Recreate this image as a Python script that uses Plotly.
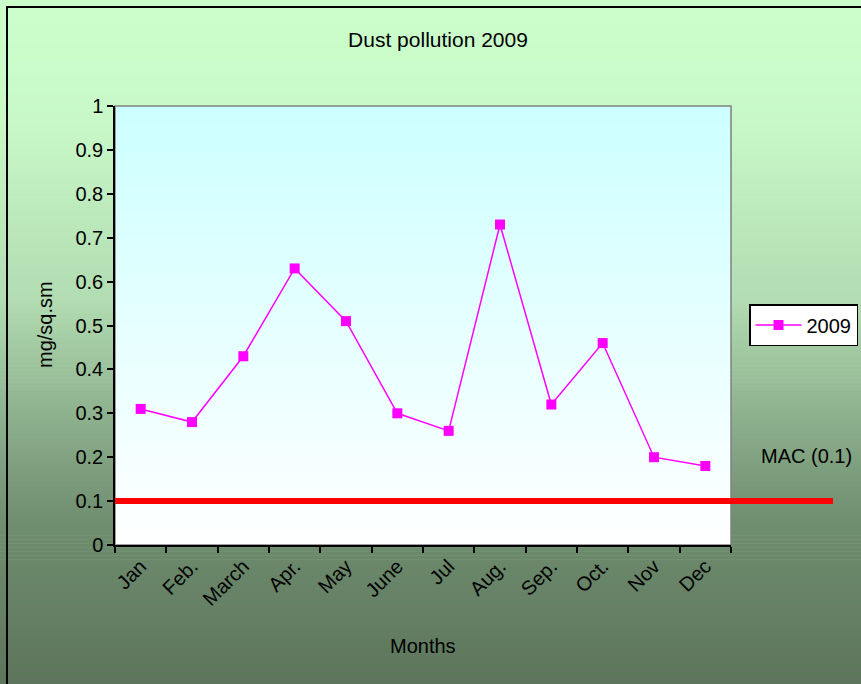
import plotly.graph_objects as go

# ---- data ----
months = ["Jan", "Feb.", "March", "Apr.", "May", "June", "Jul", "Aug.", "Sep.", "Oct.", "Nov", "Dec"]
dust_2009 = [0.31, 0.28, 0.43, 0.63, 0.51, 0.30, 0.26, 0.73, 0.32, 0.46, 0.20, 0.18]
mac_value = 0.1
y_ticks = [0, 0.1, 0.2, 0.3, 0.4, 0.5, 0.6, 0.7, 0.8, 0.9, 1]

# ---- geometry ----
W, H = 861, 684
ML, MR, MT, MB = 115, 130, 106, 139
PW, PH = W - ML - MR, H - MT - MB
YMIN, YMAX = 0, 1


def px_x(px):
    return (px - ML) / PW


def px_y(py):
    return (H - MB - py) / PH


FONT = "Liberation Sans, Arial, sans-serif"
FS = 20

fig = go.Figure()
fig.add_trace(go.Scatter(
    x=months, y=dust_2009, mode="lines+markers", name="2009",
    line=dict(color="#FF00FF", width=1.5),
    marker=dict(symbol="square", size=10, color="#FF00FF"),
))

shapes = []

# paper gradient (top -> bottom)
stops = [(0, (204, 255, 204)), (120, (200, 248, 200)), (300, (178, 220, 178)),
         (420, (140, 175, 140)), (520, (112, 142, 112)), (684, (92, 117, 92))]


def interp(py):
    for (a, ca), (b, cb) in zip(stops[:-1], stops[1:]):
        if a <= py <= b:
            t = (py - a) / (b - a)
            return tuple(round(ca[i] + (cb[i] - ca[i]) * t) for i in range(3))
    return stops[-1][1]


N = 170
band = H / N
for i in range(N):
    top = i * band
    bot = top + band + 0.6
    c = interp(top + band / 2)
    shapes.append(dict(type="rect", xref="paper", yref="paper", layer="below",
                       x0=px_x(0), x1=px_x(W), y0=px_y(bot), y1=px_y(top),
                       line=dict(width=0), fillcolor="rgb(%d,%d,%d)" % c))

# plot-area gradient (light cyan -> white)
N2 = 110
for i in range(N2):
    t0 = i / N2
    t1 = (i + 1) / N2
    tm = (t0 + t1) / 2
    c = (round(204 + 51 * tm), 255, 255)
    shapes.append(dict(type="rect", xref="paper", yref="paper", layer="below",
                       x0=0, x1=1, y0=1 - t1 - 0.003, y1=1 - t0,
                       line=dict(width=0), fillcolor="rgb(%d,%d,%d)" % c))

# plot area gray frame
shapes.append(dict(type="rect", xref="paper", yref="paper", layer="below",
                   x0=0, x1=1, y0=0, y1=1, line=dict(color="#808080", width=1.5),
                   fillcolor="rgba(0,0,0,0)"))

# outer black border
shapes.append(dict(type="rect", xref="paper", yref="paper", layer="below",
                   x0=px_x(7), x1=px_x(W + 20), y0=px_y(H + 20), y1=px_y(7),
                   line=dict(color="black", width=2), fillcolor="rgba(0,0,0,0)"))

# MAC line
mac_y = (mac_value - YMIN) / (YMAX - YMIN)
shapes.append(dict(type="line", xref="paper", yref="paper", layer="above",
                   x0=0, x1=px_x(833), y0=mac_y, y1=mac_y,
                   line=dict(color="#FF0000", width=6)))

annotations = [
    dict(text="MAC (0.1)", xref="paper", yref="paper", x=px_x(806), y=px_y(456),
         showarrow=False, font=dict(size=FS, color="black", family=FONT),
         xanchor="center", yanchor="middle"),
    dict(text="Months", xref="paper", yref="paper", x=px_x(423), y=px_y(646),
         showarrow=False, font=dict(size=FS, color="black", family=FONT),
         xanchor="center", yanchor="middle"),
    dict(text="mg/sq.sm", xref="paper", yref="paper", x=px_x(45), y=px_y(325),
         showarrow=False, textangle=-90, font=dict(size=FS, color="black", family=FONT),
         xanchor="center", yanchor="middle"),
]

fig.update_layout(
    width=W, height=H,
    margin=dict(l=ML, r=MR, t=MT, b=MB, pad=0, autoexpand=False),
    paper_bgcolor="rgb(204,255,204)",
    plot_bgcolor="rgba(0,0,0,0)",
    font=dict(family=FONT, size=FS, color="black"),
    title=dict(text="Dust pollution 2009", x=438 / W, xref="container", xanchor="center",
               y=1 - 40 / H, yref="container", yanchor="middle",
               font=dict(size=21, family=FONT, color="black")),
    shapes=shapes,
    annotations=annotations,
    showlegend=True,
    legend=dict(x=px_x(749), xanchor="left", y=px_y(325), yanchor="middle",
                bgcolor="white", bordercolor="black", borderwidth=1.5,
                font=dict(size=FS, family=FONT, color="black"),
                itemwidth=46, tracegroupgap=0),
    xaxis=dict(type="category", tickson="boundaries", ticks="outside", ticklen=6,
               tickcolor="black", tickwidth=1.5, showline=True, linecolor="black",
               linewidth=1.5, showgrid=False, zeroline=False, tickangle=-45,
               tickfont=dict(size=FS, family=FONT, color="black"),
               range=[-0.5, len(months) - 0.5]),
    yaxis=dict(range=[YMIN, YMAX], tickvals=y_ticks, ticktext=[str(v) for v in y_ticks],
               ticks="outside", ticklen=6, tickcolor="black", tickwidth=1.5,
               showline=True, linecolor="black", linewidth=1.5, showgrid=False,
               zeroline=False, tickfont=dict(size=FS, family=FONT, color="black")),
)

fig.write_html("out.html", config={"displayModeBar": False},
               post_script="document.body.style.margin='0';")
